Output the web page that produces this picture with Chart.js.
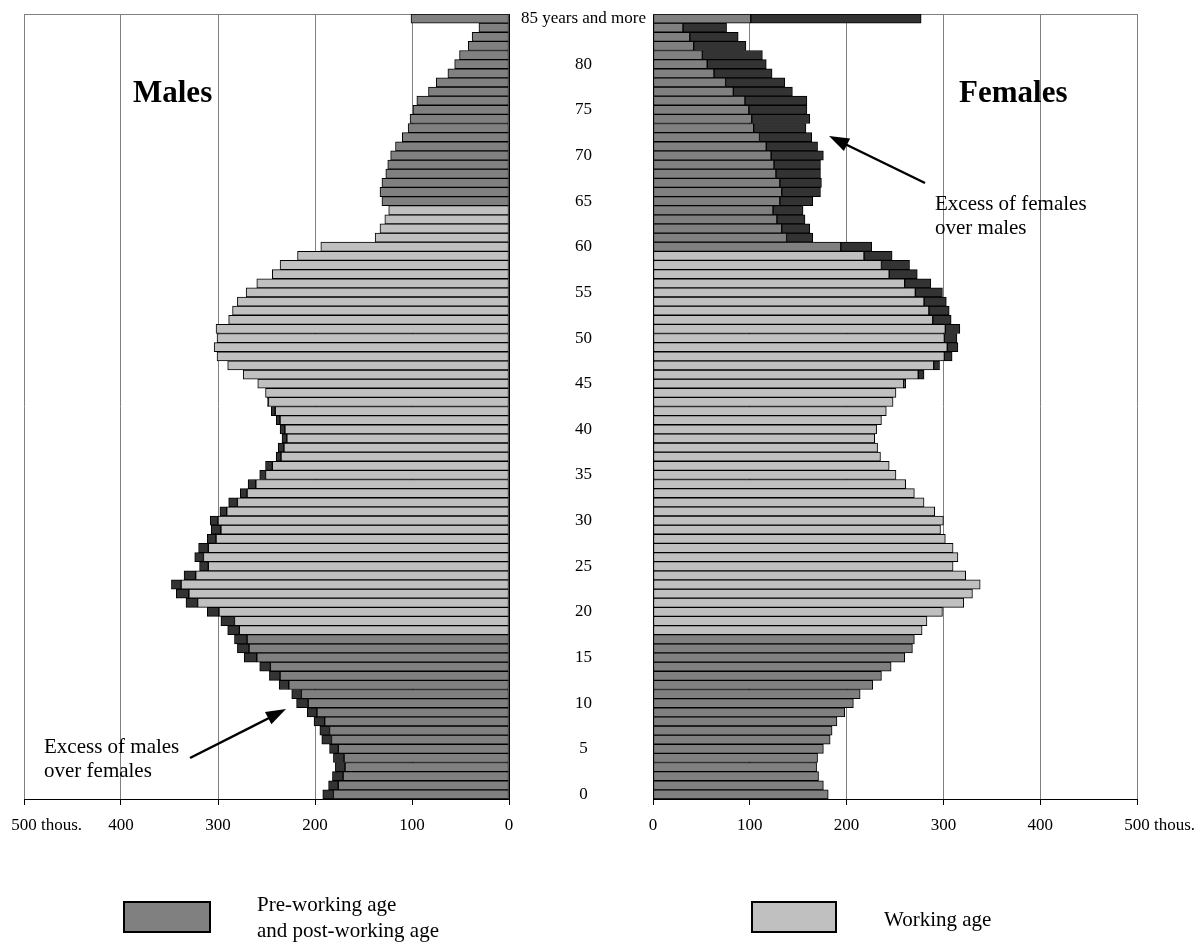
<!DOCTYPE html>
<html><head><meta charset="utf-8">
<script src="https://cdn.jsdelivr.net/npm/chart.js@4/dist/chart.umd.min.js"></script>
<style>
html,body{margin:0;padding:0;background:#fff;}
#wrap{position:relative;width:1201px;height:945px;overflow:hidden;background:#fff;}
canvas,svg{position:absolute;left:0;top:0;}
</style></head><body>
<div id="wrap">
<canvas id="males" width="1201" height="945"></canvas>
<canvas id="females" width="1201" height="945"></canvas>
<svg width="1201" height="945" font-family="'Liberation Serif','Times New Roman',serif" fill="#000">
  <text x="133" y="101.5" font-size="31" font-weight="bold">Males</text>
  <text x="959" y="101.5" font-size="31" font-weight="bold">Females</text>
  <text x="44" y="753" font-size="21">Excess of males</text>
  <text x="44" y="777" font-size="21">over females</text>
  <text x="935" y="210" font-size="21">Excess of females</text>
  <text x="935" y="234" font-size="21">over males</text>
  <line x1="190" y1="758" x2="269" y2="718" stroke="#000" stroke-width="2.5"/>
  <polygon points="286,709 271.4,724.3 265,711.9" fill="#000"/>
  <line x1="925" y1="183" x2="846" y2="144.5" stroke="#000" stroke-width="2.5"/>
  <polygon points="829,136 850.1,138.5 843.9,151.1" fill="#000"/>
  <rect x="124" y="902" width="86" height="30" fill="#808080" stroke="#000" stroke-width="2"/>
  <text x="257" y="911" font-size="21">Pre-working age</text>
  <text x="257" y="937" font-size="21">and post-working age</text>
  <rect x="752" y="902" width="84" height="30" fill="#c0c0c0" stroke="#000" stroke-width="2"/>
  <text x="884" y="926" font-size="21">Working age</text>
</svg>
</div>
<script>
// ---- data (thousands of persons) ----
const ageLabels = ['0','1','2','3','4','5','6','7','8','9','10','11','12','13','14','15','16','17','18','19',
 '20','21','22','23','24','25','26','27','28','29','30','31','32','33','34','35','36','37','38','39',
 '40','41','42','43','44','45','46','47','48','49','50','51','52','53','54','55','56','57','58','59',
 '60','61','62','63','64','65','66','67','68','69','70','71','72','73','74','75','76','77','78','79',
 '80','81','82','83','84','85 years and more'];
const shownAgeTicks = ['0','5','10','15','20','25','30','35','40','45','50','55','60','65','70','75','80','85 years and more'];
const males = [192,186,182,179,181,185,193,195,201,208,219,224,237,247,257,273,280,283,290,297,
 311,333,343,348,335,319,324,320,311,307,308,298,289,277,269,257,251,240,238,234,
 236,240,245,249,251,259,274,290,301,304,301,302,289,285,280,271,260,244,236,218,
 194,138,133,128,124,131,133,131,127,125,122,117,110,104,102,99,95,83,75,63,
 56,51,42,38,31,101];
const females = [181,176,171,169,170,176,183,185,190,198,207,214,227,236,246,260,268,270,278,283,
 299,321,330,338,323,310,315,310,302,297,300,291,280,270,261,251,244,235,232,229,
 231,236,241,248,251,261,280,296,309,315,314,317,308,306,303,299,287,273,265,247,
 226,165,162,157,155,165,173,174,173,173,176,170,164,158,162,159,159,144,136,123,
 117,113,96,88,76,277];
const maleWorkingAges = [18, 64];
const femaleWorkingAges = [18, 59];
const xTickValues = [0, 100, 200, 300, 400, 500];
const xUnitLabel = ' thous.';

const FONT = "'Liberation Serif','Times New Roman',serif";
const DARK = '#808080', LIGHT = '#c0c0c0', EXCESS = '#333333', GRID = '#808080';

function sideData(own, other, working) {
  const base = own.map((v, i) => Math.min(v, other[i]));
  const excess = own.map((v, i) => v > other[i] ? v - other[i] : null);
  const colors = ageLabels.map((a, i) => (i >= working[0] && i <= working[1]) ? LIGHT : DARK);
  return {base, excess, colors};
}

const framePlugin = {
  id: 'frame',
  beforeDatasetsDraw(chart) {
    const a = chart.chartArea, ctx = chart.ctx;
    ctx.save();
    ctx.strokeStyle = GRID; ctx.lineWidth = 1;
    ctx.beginPath(); ctx.moveTo(a.left, a.top + 0.5); ctx.lineTo(a.right, a.top + 0.5); ctx.stroke();
    ctx.restore();
  }
};
const unitPlugin = {
  id: 'unit',
  afterDraw(chart) {
    const s = chart.scales.x, ctx = chart.ctx;
    let items = [];
    try { items = s.getLabelItems(chart.chartArea); } catch (e) { items = []; }
    const it = items.find(o => String(o.label) === String(xTickValues[xTickValues.length - 1]));
    ctx.save();
    ctx.fillStyle = '#000';
    if (it) {
      ctx.font = it.font.string;
      ctx.textBaseline = it.options.textBaseline || 'middle';
      ctx.textAlign = 'left';
      const [x, y] = it.options.translation;
      const w = ctx.measureText(String(it.label)).width;
      ctx.fillText(xUnitLabel, x + w / 2, y + (it.textOffset || 0));
    }
    ctx.restore();
  }
};

function makeChart(id, own, other, working, isLeft) {
  const d = sideData(own, other, working);
  const common = {borderColor: '#000', borderWidth: 1, borderSkipped: false,
                  barPercentage: 1, categoryPercentage: 1, stack: 's'};
  return new Chart(document.getElementById(id), {
    type: 'bar',
    data: {labels: ageLabels, datasets: [
      Object.assign({data: d.base, backgroundColor: d.colors}, common),
      Object.assign({data: d.excess, backgroundColor: EXCESS}, common)
    ]},
    plugins: [framePlugin, unitPlugin],
    options: {
      indexAxis: 'y', responsive: false, animation: false, devicePixelRatio: 1, events: [],
      layout: {padding: isLeft ? {left: 24, right: 692, top: 14, bottom: 106}
                                : {left: 509, right: 64, top: 14, bottom: 106}},
      plugins: {legend: {display: false}, tooltip: {enabled: false}},
      scales: {
        x: {type: 'linear', min: 0, max: 500, reverse: isLeft, stacked: true,
            ticks: {stepSize: 100, autoSkip: false, maxRotation: 0, padding: 10, color: '#000',
                    font: {family: FONT, size: 17},
                    callback: v => xTickValues.includes(v) ? String(v) : ''},
            grid: {color: c => (c.tick && c.tick.value === 0) ? '#000' : GRID,
                   tickColor: '#000', tickLength: 6, lineWidth: 1},
            border: {color: '#000', width: 1},
            afterFit: s => { s.height = 40; }},
        y: {type: 'category', reverse: true, stacked: true, offset: true,
            position: isLeft ? 'right' : 'left',
            grid: {display: false, drawTicks: false},
            border: {color: '#000', width: 1},
            ticks: isLeft ? {display: false} : {
              display: true, autoSkip: false, crossAlign: 'center', padding: 7, color: '#000',
              font: {family: FONT, size: 17},
              callback: function (v) { const l = this.getLabelForValue(v); return shownAgeTicks.includes(l) ? l : ''; }},
            afterFit: s => { s.width = isLeft ? 0 : 144; s.paddingTop = 0; s.paddingBottom = 0; }}
      }
    }
  });
}

makeChart('males', males, females, maleWorkingAges, true);
makeChart('females', females, males, femaleWorkingAges, false);
</script>
</body></html>
